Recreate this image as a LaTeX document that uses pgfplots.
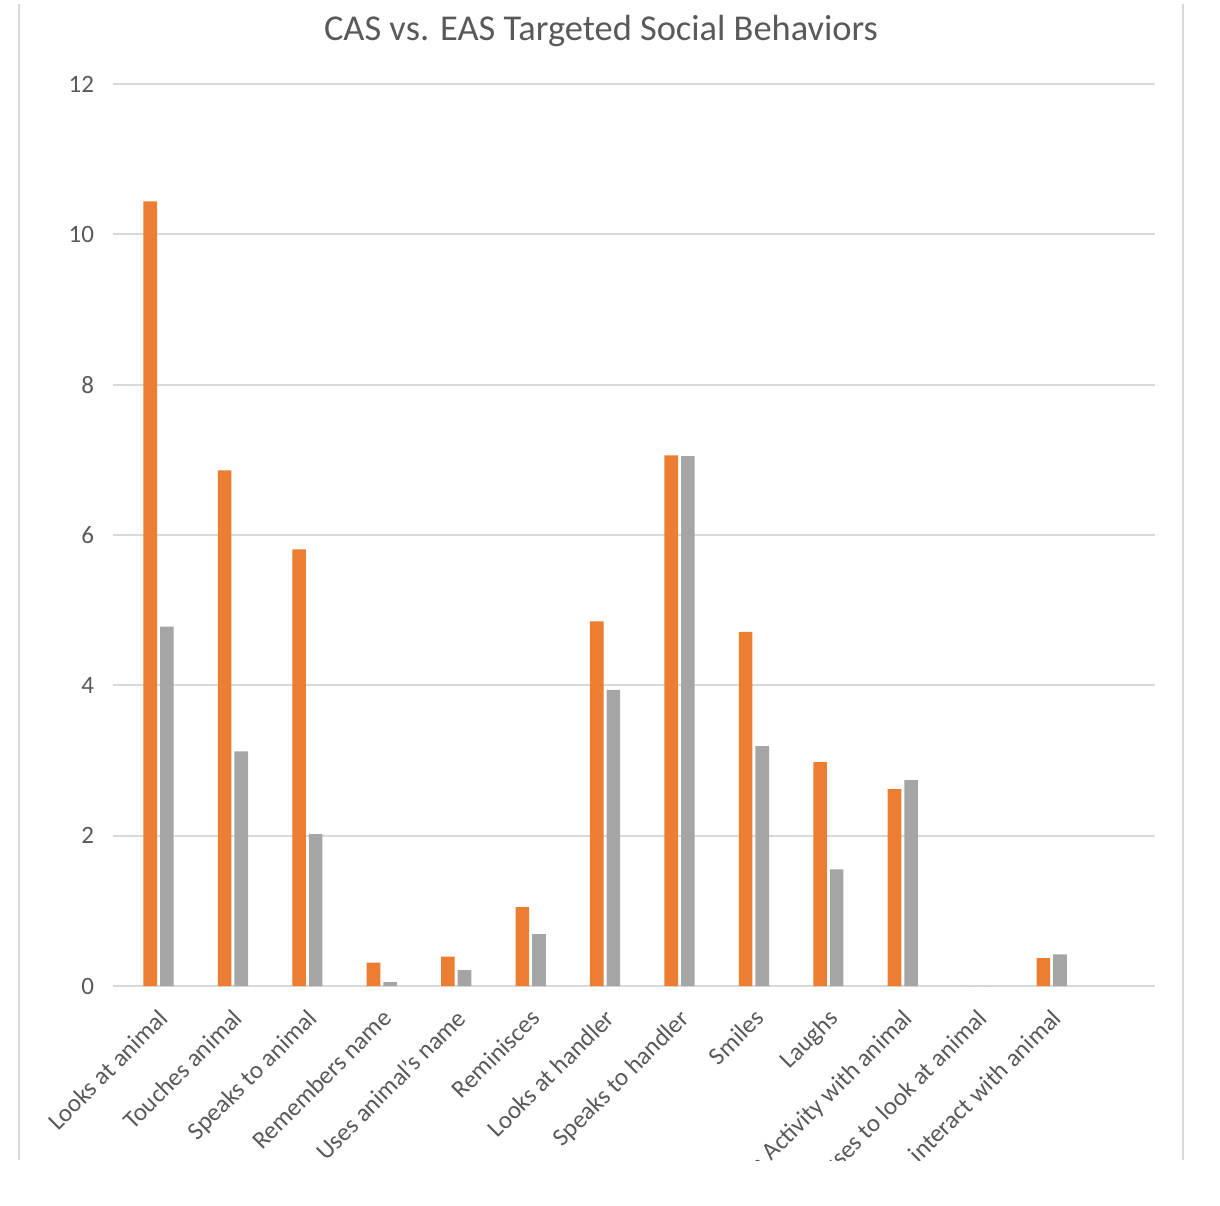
\documentclass[border=0pt]{standalone}
\usepackage{fontspec}
\setmainfont{Carlito}
\usepackage{pgfplots}
\pgfplotsset{compat=1.18}
\definecolor{casorange}{HTML}{ED7D31}
\definecolor{easgray}{HTML}{A5A5A5}
\definecolor{gridgray}{HTML}{D9D9D9}
\definecolor{textgray}{HTML}{595959}
\begin{document}
\begin{tikzpicture}
\path[use as bounding box] (0pt,0pt) rectangle (610pt,602.5pt);
\draw[gridgray, line width=1pt] (9.5pt,22.5pt) -- (9.5pt,600.5pt);
\draw[gridgray, line width=1pt] (591.5pt,22.5pt) -- (591.5pt,600.5pt);
\node[text=textgray, font=\fontsize{18.2}{21}\selectfont] at (300.5pt,587pt) {CAS vs. EAS Targeted Social Behaviors};
\begin{scope}
\clip (0pt,22.5pt) rectangle (610pt,602.5pt);
\begin{axis}[
  at={(56.5pt,109.5pt)}, anchor=south west,
  scale only axis, width=521pt, height=451pt,
  ybar, bar width=6.8pt,
  ymin=0, ymax=12, ytick={0,2,...,12},
  xmin=-0.5, xmax=13.5, xtick={0,...,13},
  xticklabels={Looks at animal, Touches animal, Speaks to animal, Remembers name, Uses animal's name, Reminisces, Looks at handler, Speaks to handler, Smiles, Laughs, Participates in Activity with animal, Refuses to look at animal, Refuses to interact with animal, {}},
  ymajorgrids, grid style={gridgray, line width=1pt},
  axis line style={draw=none}, major tick length=0pt,
  tick label style={font=\fontsize{12.5}{14}\selectfont, text=textgray},
  /pgf/number format/assume math mode=true,
  yticklabel style={xshift=-6pt},
  xticklabel style={rotate=45, anchor=north east, inner sep=1pt, xshift=-4pt, yshift=-9pt},
  clip=false,
]
\addplot[ybar, fill=casorange, draw=none, bar shift=0pt] coordinates {
  (0,10.44) (1,6.86) (2,5.81) (3,0.31) (4,0.39) (5,1.05) (6,4.85) (7,7.06) (8,4.71) (9,2.98) (10,2.62) (11,0) (12,0.37)};
\addplot[ybar, fill=easgray, draw=none, bar shift=8.3pt] coordinates {
  (0,4.78) (1,3.12) (2,2.02) (3,0.05) (4,0.21) (5,0.69) (6,3.94) (7,7.05) (8,3.19) (9,1.55) (10,2.74) (11,0) (12,0.42)};
\end{axis}
\end{scope}
\end{tikzpicture}
\end{document}
